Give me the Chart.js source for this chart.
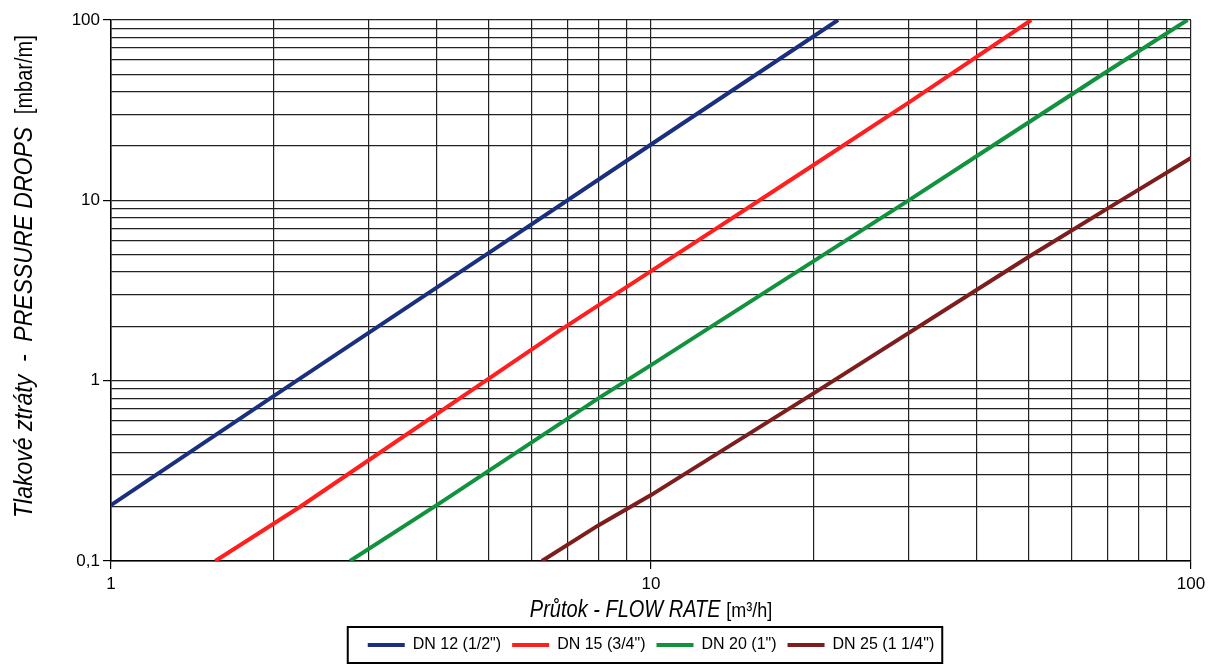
<!DOCTYPE html>
<html>
<head>
<meta charset="utf-8">
<script src="https://cdn.jsdelivr.net/npm/chart.js@4/dist/chart.umd.min.js"></script>
<style>
  html, body { margin: 0; padding: 0; background: #ffffff; }
  #wrap { width: 1216px; height: 670px; }
</style>
</head>
<body>
<div id="wrap"><canvas id="c" width="1216" height="670"></canvas></div>
<script>
// ---- data ----
const xGrid = [1,2,3,4,5,6,7,8,9,10,20,30,40,50,60,70,80,90,100];
const yGrid = [0.1,0.2,0.3,0.4,0.5,0.6,0.7,0.8,0.9,1,2,3,4,5,6,7,8,9,10,20,30,40,50,60,70,80,90,100];
const xMajor = [1, 10, 100];
const xMajorLabels = ['1', '10', '100'];
const yMajor = [0.1, 1, 10, 100];
const yMajorLabels = ['0,1', '1', '10', '100'];

const seriesNames = ['DN 12 (1/2")', 'DN 15 (3/4")', 'DN 20 (1")', 'DN 25 (1 1/4")'];
const seriesColors = ['#1b2f7e', '#ff1f1f', '#12923e', '#7d1d1d'];

const dn12X = [1, 2, 5, 10, 22.2];
const dn12Y = [0.204, 0.82, 5.1, 20.4, 100];
const dn15X = [1.56, 2.24, 6.78, 10, 20, 30, 50.6];
const dn15Y = [0.1, 0.2, 1.9, 4.05, 15.7, 34.8, 100];
const dn20X = [2.77, 4.07, 8, 10, 30, 40, 70, 98.5];
const dn20Y = [0.1, 0.21, 0.8, 1.22, 10, 17.5, 52, 100];
const dn25X = [6.28, 8, 10, 20, 50, 70, 100];
const dn25Y = [0.1, 0.158, 0.232, 0.85, 4.85, 9.0, 17.2];

const xs = [dn12X, dn15X, dn20X, dn25X];
const ys = [dn12Y, dn15Y, dn20Y, dn25Y];

function pts(xa, ya) { return xa.map((x, i) => ({ x: x, y: ya[i] })); }
function isIn(v, arr) { return arr.findIndex(a => Math.abs(a - v) / a < 1e-6); }

const datasets = seriesNames.map((name, i) => ({
  label: name,
  data: pts(xs[i], ys[i]),
  showLine: true,
  borderColor: seriesColors[i],
  backgroundColor: seriesColors[i],
  borderWidth: 4,
  pointRadius: 0,
  tension: 0,
  clip: 0
}));

const gridColor = '#222222';

const titlesPlugin = {
  id: 'titles',
  afterDraw(chart) {
    const ctx = chart.ctx;
    const ca = chart.chartArea;
    ctx.save();
    ctx.fillStyle = '#000';
    // y-axis title (rotated)
    ctx.translate(32, 518);
    ctx.rotate(-Math.PI / 2);
    ctx.scale(1, 1.15);
    ctx.textAlign = 'left';
    ctx.textBaseline = 'alphabetic';
    ctx.font = 'italic 23px "Liberation Sans", Arial, sans-serif';
    let t1 = 'Tlakové ztráty  -  PRESSURE DROPS  ';
    ctx.fillText(t1, 0, 0);
    let w1 = ctx.measureText(t1).width;
    ctx.font = '20px "Liberation Sans", Arial, sans-serif';
    ctx.fillText('[mbar/m]', w1, 0);
    ctx.restore();

    // x-axis title
    ctx.save();
    ctx.fillStyle = '#000';
    ctx.textBaseline = 'alphabetic';
    ctx.textAlign = 'left';
    const fa = 'italic 20px "Liberation Sans", Arial, sans-serif';
    const fb = '18px "Liberation Sans", Arial, sans-serif';
    const a = 'Průtok - FLOW RATE ';
    const b = '[m³/h]';
    ctx.font = fa; const wa = ctx.measureText(a).width;
    ctx.font = fb; const wb = ctx.measureText(b).width;
    const x0 = (ca.left + ca.right) / 2 - (wa + wb) / 2;
    ctx.save();
    ctx.translate(x0, 617);
    ctx.scale(1, 1.15);
    ctx.font = fa; ctx.fillText(a, 0, 0);
    ctx.font = fb; ctx.fillText(b, wa, 0);
    ctx.restore();
    ctx.restore();

    // legend frame
    const lg = chart.legend;
    if (lg && lg.legendHitBoxes && lg.legendHitBoxes.length) {
      const hb = lg.legendHitBoxes;
      const l = Math.min(...hb.map(h => h.left)) - 20;
      const r = Math.max(...hb.map(h => h.left + h.width)) + 8;
      ctx.save();
      ctx.strokeStyle = '#000';
      ctx.lineWidth = 2;
      ctx.strokeRect(l, 627, r - l, 36);
      ctx.restore();
    }
  }
};

new Chart(document.getElementById('c'), {
  type: 'scatter',
  data: { datasets: datasets },
  options: {
    responsive: false,
    animation: false,
    layout: { padding: { left: 0, top: 20, right: 25, bottom: 7 } },
    plugins: {
      legend: {
        position: 'bottom',
        fullSize: false,
        labels: {
          boxWidth: 37,
          boxHeight: 4,
          padding: 11,
          color: '#000',
          font: { family: '"Liberation Sans", Arial, sans-serif', size: 16 },
          generateLabels(chart) {
            return Chart.defaults.plugins.legend.labels.generateLabels(chart).map(l => Object.assign(l, { lineWidth: 0 }));
          }
        }
      },
      tooltip: { enabled: false }
    },
    scales: {
      x: {
        type: 'logarithmic',
        min: 1,
        max: 100,
        afterBuildTicks(scale) { scale.ticks = xGrid.map(v => ({ value: v, major: isIn(v, xMajor) >= 0 })); },
        afterFit(scale) { scale.height = 65; },
        ticks: {
          autoSkip: false,
          maxRotation: 0,
          padding: 5,
          color: '#000',
          font: { family: '"Liberation Sans", Arial, sans-serif', size: 17 },
          callback(value) { const k = isIn(value, xMajor); return k >= 0 ? xMajorLabels[k] : ''; }
        },
        grid: {
          color: gridColor,
          lineWidth: 1.2,
          tickLength: 8,
          tickColor: (c) => (c.tick && isIn(c.tick.value, xMajor) >= 0 ? '#000' : 'rgba(0,0,0,0)')
        },
        border: { color: '#000', width: 1.5 }
      },
      y: {
        type: 'logarithmic',
        min: 0.1,
        max: 100,
        afterBuildTicks(scale) { scale.ticks = yGrid.map(v => ({ value: v, major: isIn(v, yMajor) >= 0 })); },
        afterFit(scale) { scale.width = 111; },
        ticks: {
          autoSkip: false,
          padding: 3,
          color: '#000',
          font: { family: '"Liberation Sans", Arial, sans-serif', size: 17 },
          callback(value) { const k = isIn(value, yMajor); return k >= 0 ? yMajorLabels[k] : ''; }
        },
        grid: {
          color: gridColor,
          lineWidth: 1.2,
          tickLength: 8,
          tickColor: (c) => (c.tick && isIn(c.tick.value, yMajor) >= 0 ? '#000' : 'rgba(0,0,0,0)')
        },
        border: { color: '#000', width: 1.5 }
      }
    }
  },
  plugins: [titlesPlugin]
});
</script>
</body>
</html>
